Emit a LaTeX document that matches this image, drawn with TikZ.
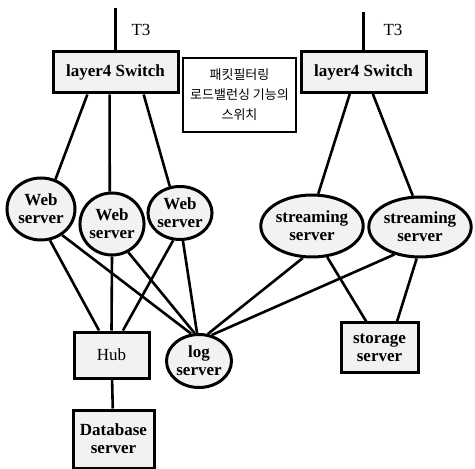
\documentclass[tikz,border=0pt]{standalone}
\usepackage{fontspec}
\setmainfont{Liberation Serif}
\newfontfamily\kofont{Noto Sans CJK KR}
\usetikzlibrary{shapes.geometric}

\begin{document}
\begin{tikzpicture}[x=0.5pt,y=-0.5pt,
    link/.style={line width=1.3pt},
    lbl/.style={font=\fontsize{8.5}{9}\selectfont\bfseries, align=center},
    switchbox/.style={draw, line width=1.5pt, fill=gray!10, inner sep=0pt,
      minimum width=62.5pt, minimum height=20.5pt, lbl},
    srvell/.style={ellipse, draw, line width=1.5pt, fill=gray!10, inner sep=0pt, lbl},
    srvbox/.style={draw, line width=1.5pt, fill=gray!10, inner sep=0pt, lbl},
    note/.style={draw, line width=0.6pt, fill=white, inner sep=0pt, align=center,
      minimum width=56.5pt, minimum height=37pt,
      font=\kofont\fontsize{6.5}{10}\selectfont}]
  \useasboundingbox (0,0) rectangle (475,469);
  % switches and uplinks
  \node[switchbox] (lsw) at (115.5,72.5) {layer4 Switch};
  \node[switchbox] (rsw) at (363.5,72) {layer4 Switch};
  \coordinate (t3l) at (115.5,8);
  \coordinate (t3r) at (363.5,12);
  \draw[link] (t3l) -- (lsw);
  \draw[link] (t3r) -- (rsw);
  \node[font=\fontsize{8.5}{9}\selectfont] (t3a) at (141,30) {T3};
  \node[font=\fontsize{8.5}{9}\selectfont] (t3b) at (393,30) {T3};
  \node[note] (memo) at (239.5,95) {패킷필터링\\로드밸런싱 기능의\\스위치};
  % servers
  \node[srvell, minimum width=34pt, minimum height=31pt] (web1) at (41,209) {Web\\server};
  \node[srvell, minimum width=29.5pt, minimum height=31pt] (web2) at (112,224) {Web\\server};
  \node[srvell, minimum width=28pt, minimum height=26.5pt] (web3) at (180,213) {Web\\server};
  \node[srvell, minimum width=49.5pt, minimum height=31pt] (str1) at (312,226) {streaming\\server};
  \node[srvell, minimum width=42.5pt, minimum height=30pt] (str2) at (420,227) {streaming\\server};
  \node[srvell, minimum width=32.5pt, minimum height=26.5pt] (log) at (199,361) {log\\server};
  \node[srvbox, font=\fontsize{8.5}{9}\selectfont, minimum width=37.5pt, minimum height=23pt] (hub) at (111.5,355) {Hub};
  \node[srvbox, minimum width=40.5pt, minimum height=29pt] (db) at (113.5,439) {Database\\server};
  \node[srvbox, minimum width=38.5pt, minimum height=24.5pt] (storage) at (379.5,347.5) {storage\\server};
  % connectors
  \draw[link] (lsw.-142) -- (web1.64);
  \draw[link] (lsw.-105) -- (web2.94);
  \draw[link] (lsw.-38) -- (web3.111);
  \draw[link] (rsw.-122) -- (str1.79);
  \draw[link] (rsw.-67) -- (str2.103);
  \draw[link] (web1.-74) -- (hub.117);
  \draw[link] (web1.-51) -- (log.106);
  \draw[link] (web2.south) -- (hub.north);
  \draw[link] (web2.-60) -- (log.99);
  \draw[link] (web3.-104) -- (hub.65);
  \draw[link] (web3.-84) -- (log.94);
  \draw[link] (str1.-106) -- (log.72);
  \draw[link] (str2.-133) -- (log.64);
  \draw[link] (str1.-64) -- (storage.117);
  \draw[link] (str2.-96) -- (storage.56);
  \draw[link] (hub) -- (db);
\end{tikzpicture}
\end{document}
